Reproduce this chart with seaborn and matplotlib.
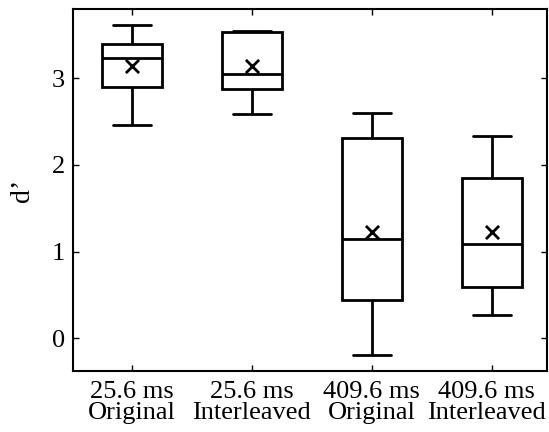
import matplotlib
matplotlib.use("Agg")
import matplotlib.pyplot as plt
import seaborn as sns
import pandas as pd
import numpy as np

# Data (five-number summaries + means)
categories = ["25.6 ms\nOriginal", "25.6 ms\nInterleaved", "409.6 ms\nOriginal", "409.6 ms\nInterleaved"]
whisker_low = [2.458, 2.585, -0.196, 0.265]
q1 = [2.900, 2.873, 0.442, 0.588]
median = [3.234, 3.053, 1.146, 1.085]
q3 = [3.399, 3.531, 2.308, 1.850]
whisker_high = [3.615, 3.549, 2.596, 2.334]
means = [3.145, 3.145, 1.230, 1.223]
yticks = [0, 1, 2, 3]

sns.set_theme(style="white")
plt.rcParams["font.family"] = ["Liberation Serif", "DejaVu Serif"]
plt.rcParams["text.color"] = "black"
plt.rcParams["axes.labelcolor"] = "black"

rows = []
for c, a, b, m, d, e in zip(categories, whisker_low, q1, median, q3, whisker_high):
    for v in (a, b, m, d, e):
        rows.append({"cond": c, "dprime": v})
df = pd.DataFrame(rows)

fig = plt.figure(figsize=(5.49, 4.32), dpi=100)
ax = fig.add_axes([73 / 549, 1 - 371 / 432, (547 - 73) / 549, (371 - 9) / 432])

lw = 2.0
sns.boxplot(data=df, x="cond", y="dprime", order=categories, whis=(0, 100),
            width=0.5, color="white", linecolor="black", linewidth=lw,
            showcaps=True, fliersize=0, ax=ax,
            boxprops=dict(facecolor="white", edgecolor="black", linewidth=lw),
            whiskerprops=dict(color="black", linewidth=lw),
            capprops=dict(color="black", linewidth=lw),
            medianprops=dict(color="black", linewidth=lw),
            capwidths=0.32)

mdf = pd.DataFrame({"cond": categories, "mean": means})
sns.scatterplot(data=mdf, x="cond", y="mean", marker="x", s=90, color="black",
                linewidth=2.0, ax=ax, zorder=5, legend=False)

fs = 19
xpad = 7
ax.set_xlim(-0.49, 3.46)
ax.set_ylim(-0.377, 3.80)
ax.set_yticks(yticks)
ax.set_yticklabels([str(t) for t in yticks], fontsize=fs)
ax.set_xticks(range(len(categories)))
# last label is drawn separately, nudged left so it stays inside the figure as in the reference
ax.set_xticklabels(categories[:-1] + [""], linespacing=0.95, fontsize=fs)
ax.annotate(categories[-1], xy=(len(categories) - 1, 0), xycoords=("data", "axes fraction"),
            xytext=(-5, -xpad * fig.dpi / 72), textcoords="offset pixels",
            ha="center", va="top", fontsize=fs, linespacing=0.95, color="black",
            annotation_clip=False)
ax.set_xlabel("")
ax.set_ylabel("d\u2019", fontsize=fs + 1, labelpad=12, color="black")

for s in ax.spines.values():
    s.set_visible(True)
    s.set_color("black")
    s.set_linewidth(1.5)

ax.tick_params(axis="both", which="major", direction="in", length=4, width=1.0,
               colors="black", top=True, right=True, bottom=True, left=True)
ax.tick_params(axis="x", pad=xpad)
ax.tick_params(axis="y", pad=6)
ax.grid(False)

fig.savefig("out.png", dpi=100)
